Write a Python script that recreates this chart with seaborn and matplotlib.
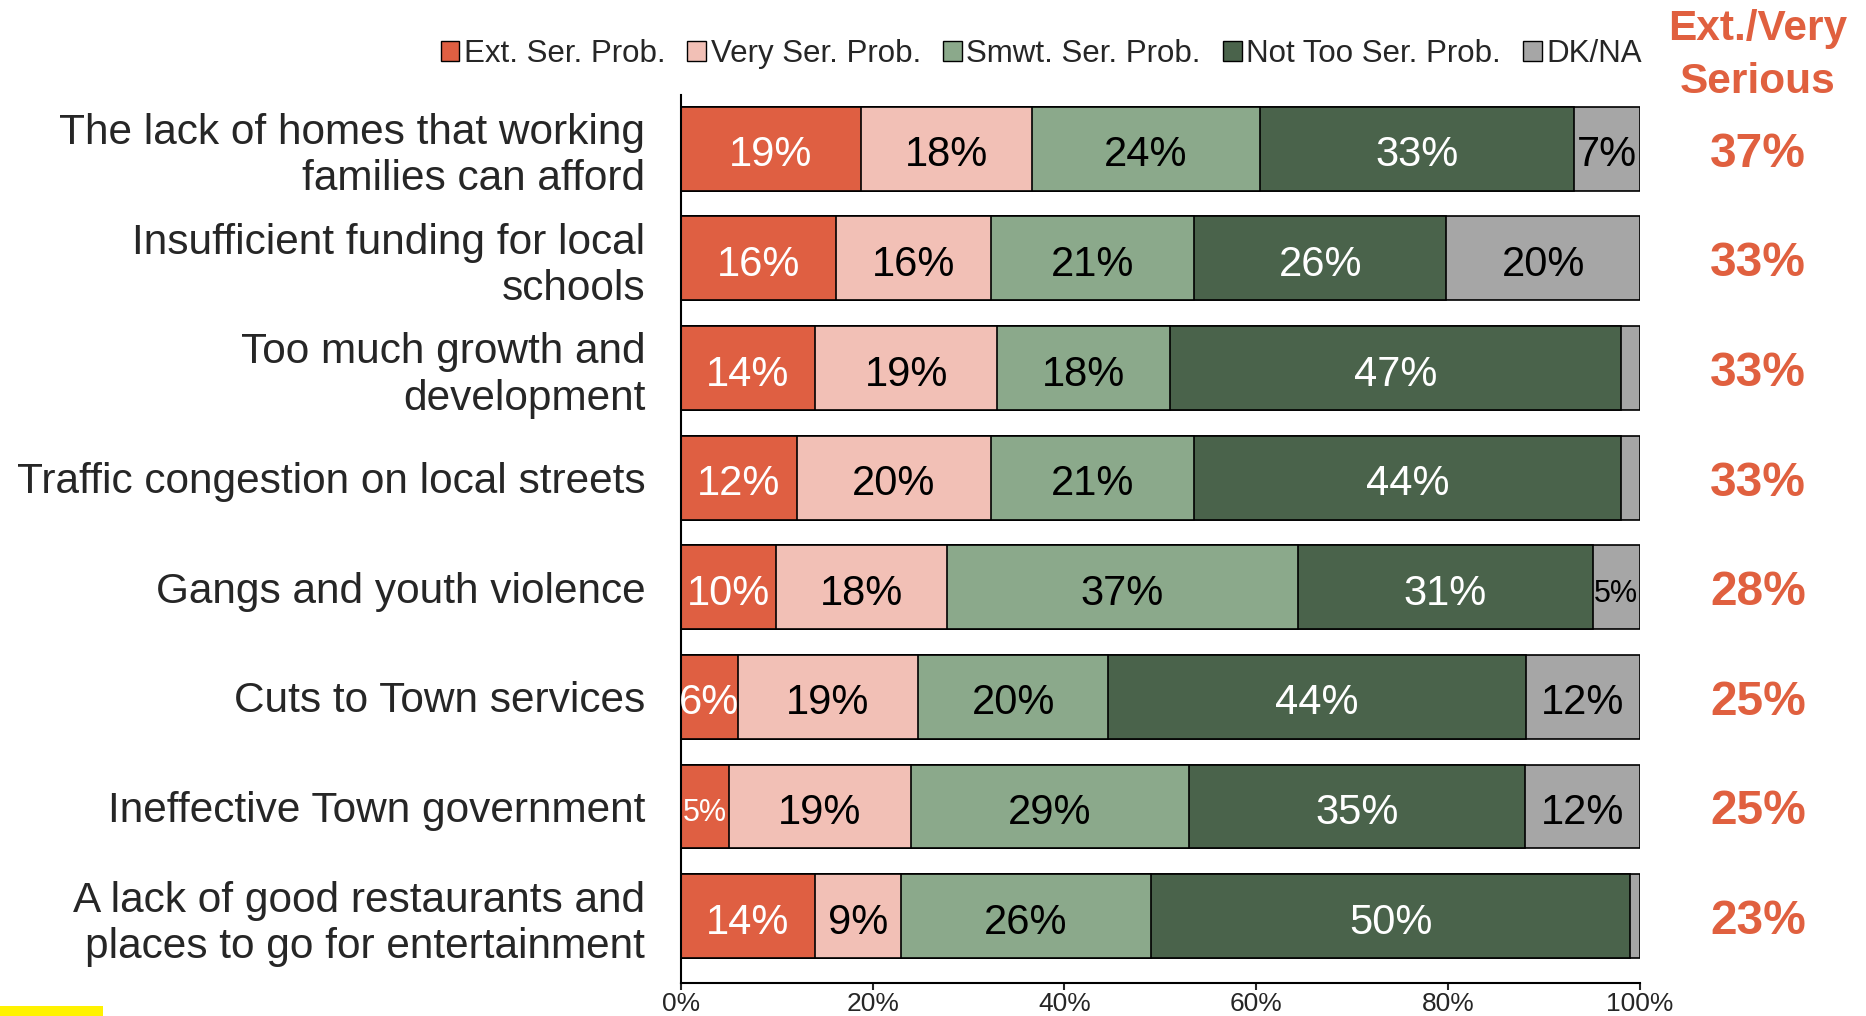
import numpy as np
import pandas as pd
import seaborn as sns
import matplotlib.pyplot as plt
from matplotlib.patches import Patch, Rectangle
from matplotlib.transforms import blended_transform_factory

issues = [
    "The lack of homes that working\nfamilies can afford",
    "Insufficient funding for local\nschools",
    "Too much growth and\ndevelopment",
    "Traffic congestion on local streets",
    "Gangs and youth violence",
    "Cuts to Town services",
    "Ineffective Town government",
    "A lack of good restaurants and\nplaces to go for entertainment",
]
series = ["Ext. Ser. Prob.", "Very Ser. Prob.", "Smwt. Ser. Prob.",
          "Not Too Ser. Prob.", "DK/NA"]
ext_ser = [19, 16, 14, 12, 10, 6, 5, 14]
very_ser = [18, 16, 19, 20, 18, 19, 19, 9]
smwt_ser = [24, 21, 18, 21, 37, 20, 29, 26]
not_too = [33, 26, 47, 44, 31, 44, 35, 50]
dk_na = [7, 20, 2, 2, 5, 12, 12, 1]
ext_very = [37, 33, 33, 33, 28, 25, 25, 23]

colors = ["#DF5F42", "#F2C0B6", "#8BA98B", "#4A634B", "#A6A6A6"]
text_colors = ["white", "black", "black", "white", "black"]
RED = "#E0603F"

sns.set_style("white")
plt.rcParams["font.family"] = ["Liberation Sans", "DejaVu Sans"]

vals = np.array([ext_ser, very_ser, smwt_ser, not_too, dk_na], dtype=float)
pct = vals / vals.sum(axis=0) * 100
cum = np.cumsum(pct, axis=0)

fig = plt.figure(figsize=(18.66, 10.16), dpi=100)
ax = fig.add_axes([0.3648, 0.0325, 0.8789 - 0.3648, 0.9065 - 0.0325])

# draw cumulative bars from longest to shortest so they look stacked
for i in reversed(range(len(series))):
    df = pd.DataFrame({"issue": issues, "cum": cum[i]})
    sns.barplot(data=df, x="cum", y="issue", orient="h", color=colors[i],
                edgecolor="black", linewidth=1.2, width=0.765,
                saturation=1, ax=ax)

for i in range(len(series)):
    for j in range(len(issues)):
        v = vals[i, j]
        if v < 3:
            continue
        center = cum[i, j] - pct[i, j] / 2
        size = 22 if v <= 5 else 30
        ax.text(center, j + 0.06, f"{int(v)}%", ha="center", va="center",
                color=text_colors[i], fontsize=size)

ax.set_xlim(0, 100)
ax.set_ylim(7.61, -0.49)
ax.set_xticks(np.arange(0, 101, 20))
ax.set_xticklabels([f"{t}%" for t in range(0, 101, 20)])
ax.set_xlabel("")
ax.set_ylabel("")
ax.tick_params(axis="x", bottom=True, direction="out", length=5, width=1.5,
               labelsize=19, pad=1.5)
ax.tick_params(axis="y", left=False, labelsize=30.5, pad=22)
for lab in ax.get_yticklabels():
    lab.set_multialignment("right")
for s in ["top", "right"]:
    ax.spines[s].set_visible(False)
for s in ["left", "bottom"]:
    ax.spines[s].set_linewidth(1.5)
    ax.spines[s].set_color("black")

handles = [Patch(facecolor=c, edgecolor="black", linewidth=1.0) for c in colors]
fig.legend(handles, series, loc="center", bbox_to_anchor=(0.558, 0.947),
           ncol=5, frameon=False, fontsize=22.5, handlelength=0.6,
           handleheight=0.6, handletextpad=0.15, columnspacing=0.7,
           borderaxespad=0)

fig.text(0.942, 0.945, "Ext./Very\nSerious", ha="center", va="center",
         color=RED, fontsize=30.5, fontweight="bold", linespacing=1.42)
tr = blended_transform_factory(fig.transFigure, ax.transData)
for j, v in enumerate(ext_very):
    ax.text(0.942, j + 0.05, f"{v}%", transform=tr, ha="center", va="center",
            color=RED, fontsize=34.5, fontweight="bold")

fig.patches.append(Rectangle((0, 0), 103 / 1866, 10 / 1016, transform=fig.transFigure,
                             facecolor="#FFF200", edgecolor="none", figure=fig))

fig.savefig("out.png", dpi=100)
